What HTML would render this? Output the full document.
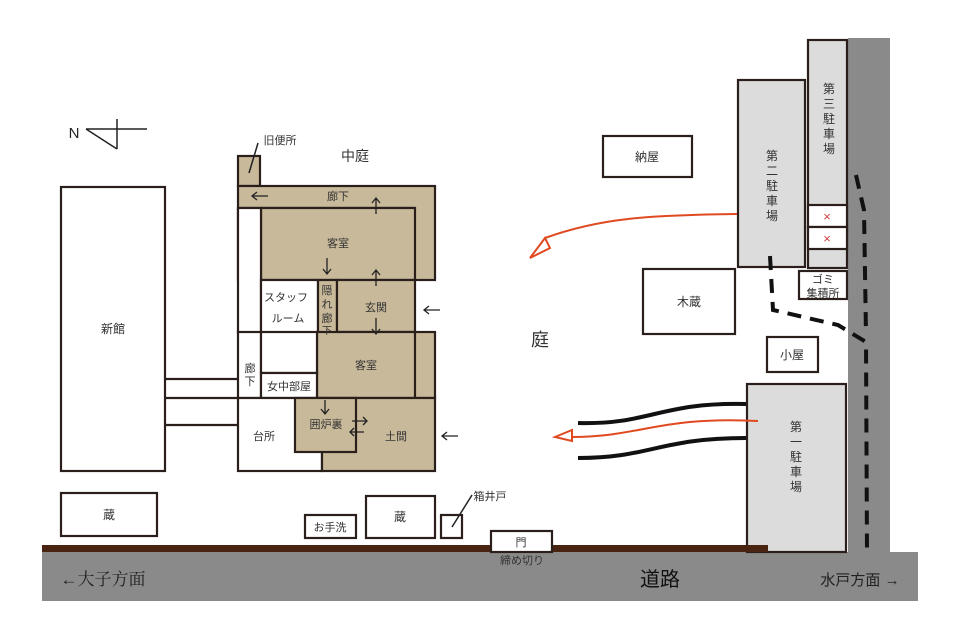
<!DOCTYPE html>
<html><head><meta charset="utf-8"><style>body{margin:0;background:#fff}svg{display:block}text{font-family:"Liberation Sans","Noto Sans CJK JP",sans-serif;fill:#333}</style></head><body>
<svg width="960" height="640" viewBox="0 0 960 640" xmlns="http://www.w3.org/2000/svg">
<rect x="42" y="552" width="876" height="49" fill="#8a8a8a"/>
<rect x="848" y="38" width="42" height="516" fill="#8a8a8a"/>
<g stroke="#2a1f1a" stroke-width="2.2">
<rect x="238" y="156" width="22" height="30" fill="#c8b99a"/>
<rect x="238" y="186" width="197" height="94" fill="#c8b99a"/>
<line x1="238" y1="208" x2="415" y2="208"/>
<rect x="261" y="208" width="154" height="72" fill="#c8b99a"/>
<rect x="238" y="208" width="23" height="125" fill="#fff"/>
<rect x="261" y="280" width="57" height="53" fill="#fff"/>
<rect x="318" y="280" width="19" height="53" fill="#c8b99a"/>
<rect x="337" y="280" width="78" height="52" fill="#c8b99a"/>
<rect x="317" y="332" width="118" height="66" fill="#c8b99a"/>
<line x1="415" y1="332" x2="415" y2="398"/>
<rect x="238" y="332" width="23" height="66" fill="#fff"/>
<rect x="261" y="332" width="56" height="41" fill="#fff"/>
<rect x="261" y="373" width="56" height="25" fill="#fff"/>
<rect x="238" y="398" width="84" height="73" fill="#fff"/>
<rect x="322" y="398" width="113" height="73" fill="#c8b99a"/>
<rect x="295" y="398" width="61" height="54" fill="#c8b99a"/>
<rect x="61" y="187" width="104" height="284" fill="#fff"/>
<line x1="165" y1="379" x2="238" y2="379"/><line x1="165" y1="398" x2="238" y2="398"/><line x1="165" y1="425" x2="238" y2="425"/>
<rect x="603" y="136" width="89" height="41" fill="#fff"/>
<rect x="738" y="80" width="67" height="187" fill="#dcdcdc"/>
<rect x="808" y="40" width="39" height="228" fill="#dcdcdc"/>
<rect x="808" y="205" width="39" height="22" fill="#fff"/>
<rect x="808" y="227" width="39" height="22" fill="#fff"/>
<rect x="799" y="271" width="48" height="28" fill="#fff"/>
<rect x="643" y="269" width="92" height="65" fill="#fff"/>
<rect x="767" y="337" width="51" height="35" fill="#fff"/>
<rect x="747" y="384" width="99" height="168" fill="#dcdcdc"/>
<rect x="61" y="493" width="96" height="43" fill="#fff"/>
<rect x="305" y="515" width="51" height="23" fill="#fff"/>
<rect x="366" y="496" width="69" height="42" fill="#fff"/>
<rect x="441" y="515" width="21" height="23" fill="#fff"/>
</g>
<rect x="42" y="545" width="726" height="7" fill="#4a2412"/>
<rect x="491" y="531" width="61" height="21" fill="#fff" stroke="#2a1f1a" stroke-width="2.2"/>
<g stroke="#222" stroke-width="1.5" fill="none">
<line x1="86" y1="129" x2="147" y2="129"/><line x1="117" y1="119" x2="117" y2="149"/><polyline points="86,129 117,149"/>
<line x1="249" y1="173" x2="258" y2="143"/>
<line x1="452" y1="527" x2="472" y2="495"/>
</g>
<g fill="none" stroke="#111" stroke-width="4" stroke-dasharray="14,9">
<path d="M770 256 L773 310 L838 325 L866 342 L867 552"/>
<path d="M856 175 L864 210 L866 335"/>
</g>
<g fill="none" stroke="#111" stroke-width="4">
<path d="M578 423 C650 425,660 402,746 404"/>
<path d="M578 458 C650 458,660 438,746 438"/>
</g>
<g fill="none" stroke="#e04a20" stroke-width="2">
<path d="M737 214 C650 215,600 218,545 238"/><path d="M545 238 L530 258 L550 248 Z" fill="#fff"/>
<path d="M758 421 C660 416,640 437,572 437"/><path d="M572 430 L555 437 L572 441 Z" fill="#fff"/>
</g>
<g stroke="#222" stroke-width="1.3" fill="none">
<path d="M252 196 H268 M257 192 L252 196 L257 200"/>
<path d="M376 214 V198 M372 203 L376 198 L380 203"/>
<path d="M327 258 V274 M323 269 L327 274 L331 269"/>
<path d="M376 286 V270 M372 275 L376 270 L380 275"/>
<path d="M376 318 V334 M372 329 L376 334 L380 329"/>
<path d="M424 310 H440 M429 306 L424 310 L429 314"/>
<path d="M325 400 V414 M321 409 L325 414 L329 409"/>
<path d="M352 421 H367 M363 417 L367 421 L363 425"/>
<path d="M350 432 H364 M354 428 L350 432 L354 436"/>
<path d="M442 436 H458 M447 432 L442 436 L447 440"/>
</g>
<g font-size="11" text-anchor="middle">
<text x="338" y="200">廊下</text><text x="338" y="247">客室</text>
<text x="286" y="301">スタッフ</text><text x="288" y="322">ルーム</text>
<text x="327" y="294">隠</text><text x="327" y="308">れ</text><text x="327" y="322">廊</text><text x="327" y="334" font-size="10">下</text>
<text x="376" y="311">玄関</text><text x="366" y="369">客室</text>
<text x="250" y="372">廊</text><text x="250" y="385">下</text>
<text x="289" y="390">女中部屋</text><text x="264" y="440">台所</text>
<text x="326" y="428">囲炉裏</text><text x="396" y="440">土間</text>
<text x="280" y="144">旧便所</text><text x="113" y="333" font-size="12">新館</text>
<text x="109" y="519" font-size="12">蔵</text><text x="330" y="531">お手洗</text><text x="400" y="521" font-size="12">蔵</text>
<text x="490" y="500">箱井戸</text><text x="521" y="546">門</text>
<text x="522" y="564">締め切り</text>
<text x="647" y="161" font-size="12">納屋</text><text x="689" y="306" font-size="12">木蔵</text>
<text x="792" y="359" font-size="12">小屋</text>
<text x="823" y="283">ゴミ</text><text x="823" y="297">集積所</text>
<text x="827" y="221" style="fill:#d04040" font-size="13">×</text><text x="827" y="243" style="fill:#d04040" font-size="13">×</text>
<text x="355" y="161" font-size="14">中庭</text>
<text x="540" y="346" font-size="18">庭</text>
<text x="660" y="586" font-size="20" style="fill:#111">道路</text>
<text x="103" y="585" font-size="17" style="fill:#222;font-family:'Liberation Serif','Noto Serif CJK SC',serif">←大子方面</text>
<text x="860" y="585" font-size="15" style="fill:#222">水戸方面 →</text>
<text x="74" y="138" font-size="15" style="fill:#222">N</text>
</g>
<g font-size="12" text-anchor="middle">
<text x="772" y="160">第</text><text x="772" y="175">二</text><text x="772" y="190">駐</text><text x="772" y="205">車</text><text x="772" y="220">場</text>
<text x="829" y="93">第</text><text x="829" y="108">三</text><text x="829" y="123">駐</text><text x="829" y="138">車</text><text x="829" y="153">場</text>
<text x="796" y="431">第</text><text x="796" y="446">一</text><text x="796" y="461">駐</text><text x="796" y="476">車</text><text x="796" y="491">場</text>
</g>
</svg>
</body></html>
